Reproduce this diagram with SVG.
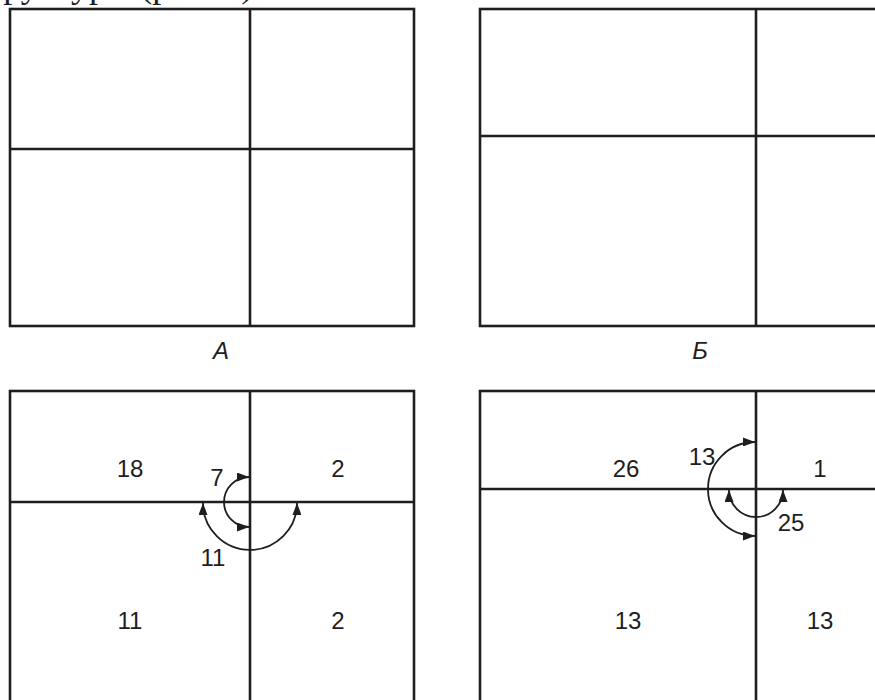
<svg xmlns="http://www.w3.org/2000/svg" width="875" height="700" viewBox="0 0 875 700">
<style>
.frame{fill:none;stroke:#1e1e1e;stroke-width:2.6}
.arc{fill:none;stroke:#1e1e1e;stroke-width:1.8}
.num{font-family:"Liberation Sans",Arial,sans-serif;font-size:24px;fill:#1e1e1e;text-anchor:middle}
.cap{font-family:"Liberation Sans",Arial,sans-serif;font-size:24px;font-style:italic;fill:#1e1e1e;text-anchor:middle}
.top{font-family:"Liberation Serif","Times New Roman",serif;font-size:36px;fill:#1e1e1e}
</style>
<defs>
<marker id="ah" viewBox="0 0 12 9" refX="12" refY="4.5" markerWidth="12" markerHeight="9" markerUnits="userSpaceOnUse" orient="auto-start-reverse">
<path d="M0,0 L12,4.5 L0,9 z" fill="#1e1e1e"/>
</marker>
</defs>
<text class="top" x="-29" y="-3">структуры (рис. 1)</text>
<g id="panelA">
<rect class="frame" x="10" y="9" width="404" height="317"/>
<line class="frame" x1="250" y1="9" x2="250" y2="326"/>
<line class="frame" x1="10" y1="149" x2="414" y2="149"/>
<text class="cap" x="221" y="359">А</text>
</g>
<g id="panelB">
<rect class="frame" x="480" y="9" width="420" height="317"/>
<line class="frame" x1="756" y1="9" x2="756" y2="326"/>
<line class="frame" x1="480" y1="136" x2="900" y2="136"/>
<text class="cap" x="700" y="359">Б</text>
</g>
<g id="panelC">
<rect class="frame" x="10" y="391" width="404" height="330"/>
<line class="frame" x1="250" y1="391" x2="250" y2="721"/>
<line class="frame" x1="10" y1="502" x2="414" y2="502"/>
<text class="num" x="130" y="477">18</text>
<text class="num" x="338" y="477">2</text>
<text class="num" x="130" y="629">11</text>
<text class="num" x="338" y="629">2</text>
<text class="num" x="217" y="486">7</text>
<text class="num" x="213" y="566">11</text>
</g>
<g id="panelD">
<rect class="frame" x="480" y="391" width="420" height="330"/>
<line class="frame" x1="756" y1="391" x2="756" y2="721"/>
<line class="frame" x1="480" y1="489" x2="900" y2="489"/>
<text class="num" x="626" y="477">26</text>
<text class="num" x="820" y="477">1</text>
<text class="num" x="628" y="629">13</text>
<text class="num" x="820" y="629">13</text>
<text class="num" x="702" y="465">13</text>
<text class="num" x="791" y="531">25</text>
</g>
<g id="connectors">
<path class="arc" d="M249,477 A25,25 0 0 0 249,527" marker-start="url(#ah)" marker-end="url(#ah)"/>
<path class="arc" d="M203,503 A47,47 0 0 0 297,503" marker-start="url(#ah)" marker-end="url(#ah)"/>
<path class="arc" d="M755,442 A47,47 0 0 0 755,536" marker-start="url(#ah)" marker-end="url(#ah)"/>
<path class="arc" d="M729,490 A27,27 0 0 0 783,490" marker-start="url(#ah)" marker-end="url(#ah)"/>
</g>
</svg>
